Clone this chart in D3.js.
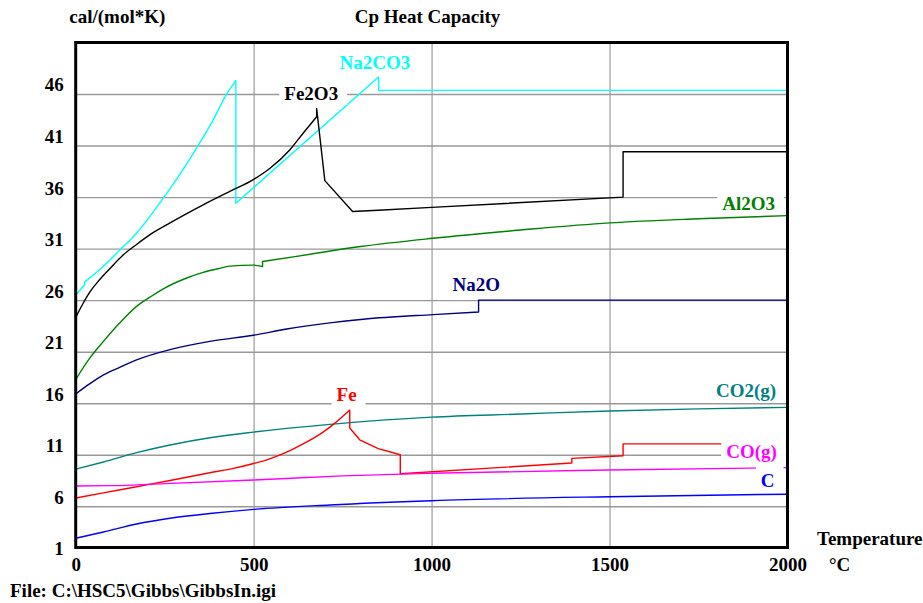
<!DOCTYPE html>
<html><head><meta charset="utf-8">
<script src="https://cdn.jsdelivr.net/npm/d3@7"></script>
<style>body{margin:0;background:#fff}</style>
</head><body>
<svg id="c" width="923" height="603"></svg>
<script>
// ---- data ----
const xTicks = [0, 500, 1000, 1500, 2000];
const yTickLabels = [1, 6, 11, 16, 21, 26, 31, 36, 41, 46];
const xGrid = [500, 1000, 1500];
const yGrid = [5, 10, 15, 20, 25, 30, 35, 40, 45];

const seriesNames = ["Na2CO3", "Fe2O3", "Al2O3", "Na2O", "CO2(g)", "Fe", "CO(g)", "C"];
const seriesColors = ["#00ffff", "#000000", "#008000", "#000080", "#008080", "#ff0000", "#ff00ff", "#0000ff"];

// [T (°C), Cp (cal/(mol*K))]; a repeated T marks a step or a sharp corner
const na2co3 = [[0,25.5],[25,26.5],[25,26.75],[78,28.3],[125,29.9],[171,31.5],[248,35.0],[300,37.6],[344,40.0],[385,42.4],[424,45.0],[450,46.3],[450,34.4],[851,46.65],[851,45.35],[2000,45.35]];
const fe2o3 = [[0,23.3],[10,24.0],[21,24.7],[40,25.8],[65,26.9],[97,28.1],[134,29.4],[171,30.4],[215,31.5],[265,32.5],[358,34.25],[433,35.55],[499,36.7],[546,37.8],[602,39.6],[639,41.2],[677,42.8],[677,43.6],[700,36.6],[700,36.6],[778,33.6],[778,33.6],[1000,34.0],[1538,35.0],[1538,39.4],[2000,39.4]];
const al2o3 = [[0,17.3],[40,19.4],[78,21.0],[124,22.8],[171,24.4],[209,25.3],[246,26.1],[312,27.15],[358,27.7],[400,28.05],[433,28.3],[499,28.4],[525,28.25],[525,28.75],[630,29.3],[800,30.2],[1004,31.0],[1250,31.8],[1500,32.5],[1750,32.9],[2000,33.2]];
const na2o = [[0,15.9],[40,16.9],[78,17.75],[125,18.5],[171,19.2],[265,20.2],[377,21.0],[500,21.6],[593,22.2],[714,22.8],[808,23.15],[1004,23.6],[1132,23.85],[1132,25.0],[2000,25.0]];
const co2 = [[0,8.6],[78,9.3],[171,10.2],[265,10.95],[377,11.65],[500,12.2],[714,12.95],[1000,13.65],[1250,13.95],[1500,14.25],[1750,14.45],[2000,14.6]];
const fe = [[0,5.8],[78,6.3],[171,6.9],[265,7.5],[377,8.25],[440,8.65],[500,9.15],[545,9.6],[583,10.1],[639,11.05],[695,12.2],[724,12.95],[770,14.35],[770,12.6],[798,11.45],[798,11.45],[850,10.6],[850,10.6],[912,10.0],[912,8.15],[1394,9.2],[1394,9.65],[1538,9.9],[1538,11.05],[2000,11.05]];
const co = [[0,6.97],[100,7.0],[250,7.2],[500,7.55],[750,7.95],[1000,8.2],[1500,8.52],[2000,8.75]];
const c = [[0,1.9],[78,2.5],[171,3.28],[265,3.84],[377,4.3],[500,4.7],[714,5.13],[1000,5.54],[1500,5.93],[2000,6.17]];

// label anchors (data units: T centre, Cp baseline)
const labelAnchors = [[840.7,47.4],[661.8,44.42],[1891,33.75],[1125.3,25.89],[1883.4,15.6],[761.2,15.24],[1898.9,9.73],[1944.4,6.9]];

const seriesData = [na2co3, fe2o3, al2o3, na2o, co2, fe, co, c];

// ---- drawing ----
const FONT = '"Liberation Serif","Times New Roman",serif';
const FS = 19;
const svg = d3.select("#c");
svg.append("rect").attr("width",923).attr("height",603).attr("fill","#fff");
const x = d3.scaleLinear().domain([0,2000]).range([75.7,787.5]);
const y = d3.scaleLinear().domain([1,50]).range([547.5,42.5]);

function styleText(sel){
  return sel.style("font-family",FONT).style("font-weight","bold").style("font-size",FS+"px").attr("fill","#000");
}

// grid
svg.append("g").attr("transform",`translate(0,${y(1)})`)
  .call(d3.axisBottom(x).tickValues(xGrid).tickSize(-(y(1)-y(50))).tickFormat(""))
  .call(g=>g.select(".domain").remove())
  .call(g=>g.selectAll("line").attr("stroke","#b0b0b0").attr("stroke-width",1.5));
svg.append("g").attr("transform",`translate(${x(0)},0)`)
  .call(d3.axisLeft(y).tickValues(yGrid).tickSize(-(x(2000)-x(0))).tickFormat(""))
  .call(g=>g.select(".domain").remove())
  .call(g=>g.selectAll("line").attr("stroke","#999").attr("stroke-width",1.4));

// series: smooth pieces, split where T repeats
const smooth = d3.line().x(d=>x(d[0])).y(d=>y(d[1])).curve(d3.curveMonotoneX);
function pathFor(data){
  const pieces = [];
  let cur = [data[0]];
  for(let i=1;i<data.length;i++){
    if(data[i][0]===data[i-1][0]){ pieces.push(cur); cur=[data[i]]; }
    else cur.push(data[i]);
  }
  pieces.push(cur);
  return pieces.map((p,k)=>{
    if(p.length===1) return (k===0?"M":"L")+x(p[0][0])+","+y(p[0][1]);
    const s = smooth(p);
    return k===0 ? s : "L"+s.slice(1);
  }).join("");
}
seriesData.forEach((d,i)=>{
  svg.append("path").attr("d",pathFor(d)).attr("fill","none")
    .attr("stroke",seriesColors[i]).attr("stroke-width",1.4).attr("stroke-linejoin","round");
});

// frame
svg.append("rect").attr("x",x(0)).attr("y",y(50)).attr("width",x(2000)-x(0)).attr("height",y(1)-y(50))
  .attr("fill","none").attr("stroke","#000").attr("stroke-width",3);

// tick labels
svg.append("g").attr("transform",`translate(${x(0)},0)`)
  .call(d3.axisLeft(y).tickValues(yTickLabels).tickSize(0).tickPadding(12).tickFormat(d3.format("d")))
  .call(g=>g.select(".domain").remove())
  .call(g=>styleText(g.selectAll("text")).attr("dy","0.38em"));
svg.append("g").attr("transform",`translate(0,${y(1)})`)
  .call(d3.axisBottom(x).tickValues(xTicks).tickSize(0).tickPadding(10).tickFormat(d3.format("d")))
  .call(g=>g.select(".domain").remove())
  .call(g=>styleText(g.selectAll("text")).attr("dy","0.71em"));

// series labels with white boxes
const lg = svg.append("g");
seriesNames.forEach((n,i)=>{
  const [tx,ty] = labelAnchors[i];
  const t = styleText(lg.append("text")).attr("x",x(tx)).attr("y",y(ty)).attr("text-anchor","middle")
    .attr("fill",seriesColors[i]).text(n);
  const bb = t.node().getBBox();
  lg.insert("rect","text").attr("x",bb.x-5).attr("y",y(ty)-20).attr("width",bb.width+14).attr("height",24.5).attr("fill","#fff");
});
lg.selectAll("text").raise();

// titles
styleText(svg.append("text")).attr("x",69.3).attr("y",23).text("cal/(mol*K)");
styleText(svg.append("text")).attr("x",427.5).attr("y",23).attr("text-anchor","middle").text("Cp Heat Capacity");
styleText(svg.append("text")).attr("x",817).attr("y",544.5).text("Temperature");
styleText(svg.append("text")).attr("x",829).attr("y",570.7).text("°C");
styleText(svg.append("text")).attr("x",10).attr("y",597).text("File: C:\\HSC5\\Gibbs\\GibbsIn.igi");
</script>
</body></html>
